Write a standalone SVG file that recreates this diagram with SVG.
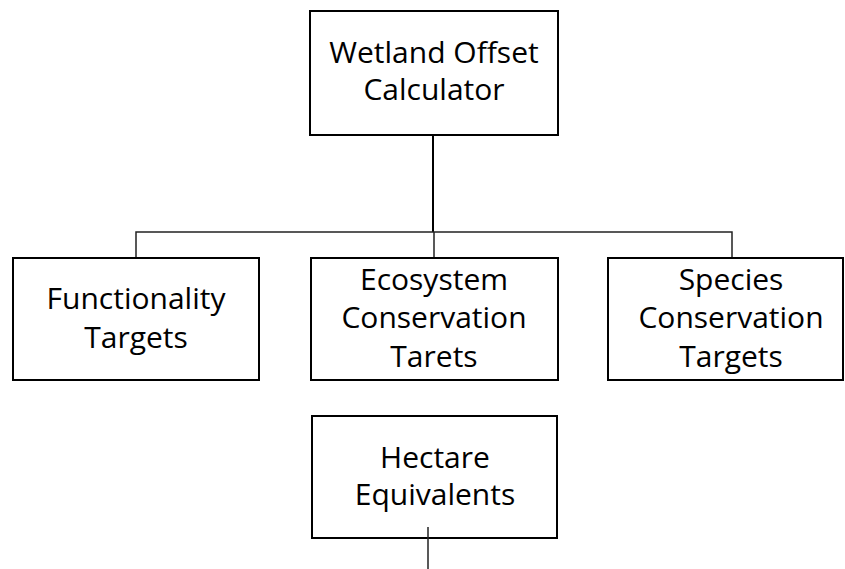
<svg xmlns="http://www.w3.org/2000/svg" width="845" height="569" viewBox="0 0 845 569">
<style>
.box{fill:#fff;stroke:#000;stroke-width:2}
.t{font-family:"Open Sans","Liberation Sans",sans-serif;font-size:30px;fill:#000;text-anchor:middle}
.c{fill:none;stroke:#000;stroke-width:2}
.h{fill:none;stroke:#222;stroke-width:1.5}
</style>
<rect width="845" height="569" fill="#fff"/>
<g id="wetland">
<rect class="box" x="310" y="11" width="248" height="124"/>
<text class="t" x="434" y="63">Wetland Offset</text>
<text class="t" x="434" y="100">Calculator</text>
</g>
<g id="functionality">
<rect class="box" x="13" y="258" width="246" height="122"/>
<text class="t" x="136" y="309">Functionality</text>
<text class="t" x="136" y="348">Targets</text>
</g>
<g id="ecosystem">
<rect class="box" x="311" y="258" width="247" height="122"/>
<text class="t" x="434" y="290">Ecosystem</text>
<text class="t" x="434" y="328">Conservation</text>
<text class="t" x="434" y="367">Tarets</text>
</g>
<g id="species">
<rect class="box" x="608" y="258" width="235" height="122"/>
<text class="t" x="731" y="290">Species</text>
<text class="t" x="731" y="328">Conservation</text>
<text class="t" x="731" y="367">Targets</text>
</g>
<g id="hectare">
<rect class="box" x="312" y="416" width="245" height="122"/>
<text class="t" x="435" y="468">Hectare</text>
<text class="t" x="435" y="505">Equivalents</text>
</g>
<g id="connectors">
<line class="c" x1="433" y1="136" x2="433" y2="232"/>
<polyline class="h" points="136,257 136,232 732,232 732,257"/>
<line class="h" x1="434" y1="232" x2="434" y2="257"/>
<line class="h" x1="428" y1="527" x2="428" y2="569"/>
</g>
</svg>
